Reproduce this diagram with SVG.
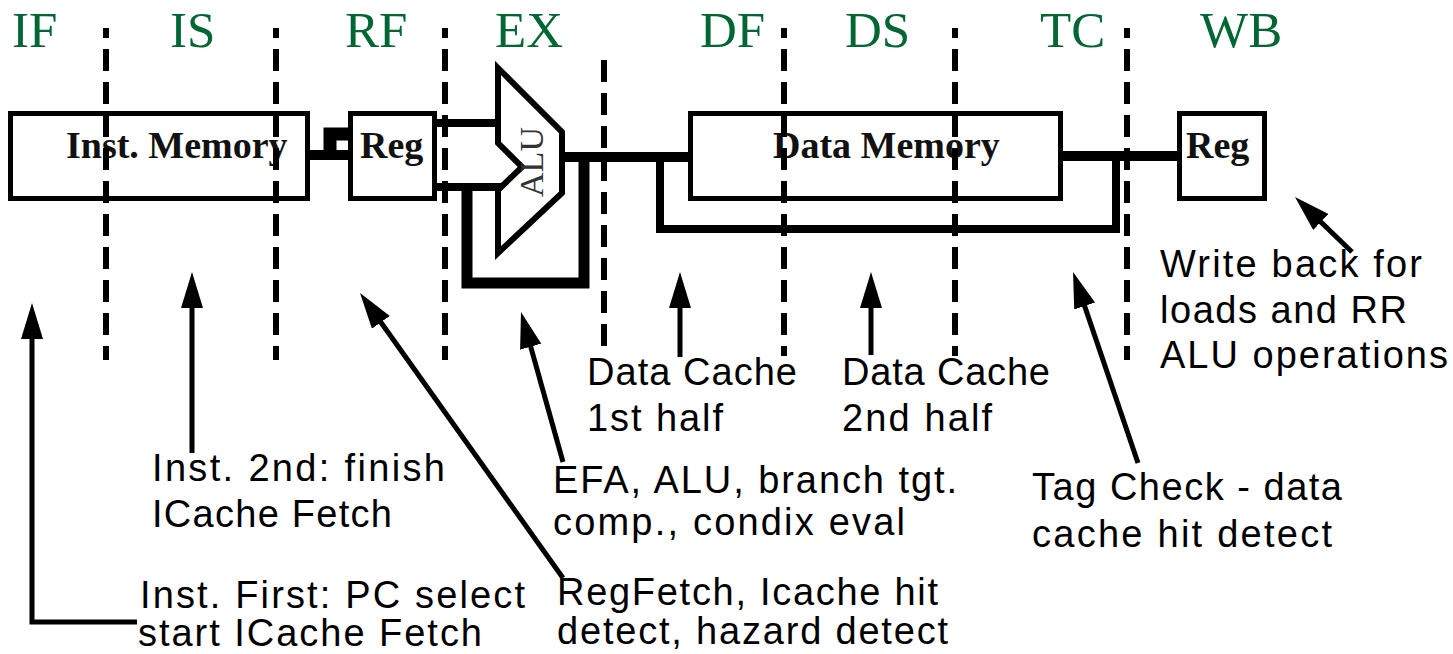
<svg xmlns="http://www.w3.org/2000/svg" width="1453" height="654" viewBox="0 0 1453 654">
<style>
.stage{font-family:"Liberation Serif","Times New Roman",serif;font-size:51px;fill:#006633}
.box{fill:#fff;stroke:#000;stroke-width:5}
.lbl{font-family:"Liberation Serif","Times New Roman",serif;font-size:38px;font-weight:bold;fill:#111}
.note{font-family:"Liberation Sans",Arial,sans-serif;font-size:38px;fill:#000}
.bus{fill:none;stroke:#000;stroke-linejoin:miter;stroke-linecap:butt}
.div{stroke:#000;stroke-width:6;stroke-dasharray:22 11}
.arr{fill:none;stroke:#000;stroke-width:5;marker-end:url(#ah)}
</style>
<defs>
<marker id="ah" viewBox="0 0 36 22" refX="20" refY="11" markerWidth="36" markerHeight="22" markerUnits="userSpaceOnUse" orient="auto">
<path d="M0,0 L36,11 L0,22 Z" fill="#000"/>
</marker>
</defs>
<rect width="1453" height="654" fill="#fff"/>
<g id="stages">
<text class="stage" x="12" y="47">IF</text>
<text class="stage" x="170" y="47">IS</text>
<text class="stage" x="345" y="47">RF</text>
<text class="stage" x="495" y="47">EX</text>
<text class="stage" x="700" y="47">DF</text>
<text class="stage" x="845" y="47">DS</text>
<text class="stage" x="1040" y="47">TC</text>
<text class="stage" x="1200" y="47">WB</text>
</g>
<g id="connectors">
<path class="bus" d="M303,155 H348" stroke-width="10"/>
<path class="bus" d="M330,160 V134 H348" stroke-width="13"/>
<path class="bus" d="M432,123 H501" stroke-width="8"/>
<path class="bus" d="M432,187 H501" stroke-width="8"/>
<path class="bus" d="M562,157 H690" stroke-width="10"/>
<path class="bus" d="M584,157 V283 H467 V187" stroke-width="11"/>
<path class="bus" d="M660,157 V229 H1116 V157" stroke-width="8"/>
<path class="bus" d="M1062,156 H1180" stroke-width="10"/>
</g>
<g id="inst-memory">
<rect class="box" x="10.5" y="113.5" width="297" height="85"/>
<text class="lbl" x="66" y="158">Inst. Memory</text>
</g>
<g id="reg-rf">
<rect class="box" x="350.5" y="113.5" width="84" height="85"/>
<text class="lbl" x="360" y="158">Reg</text>
</g>
<g id="alu">
<path d="M498,68 L562,132 L562,193 L498,253 L498,190 L522,167 L498,143 Z" fill="#fff" stroke="#000" stroke-width="6" stroke-linejoin="miter"/>
<text transform="translate(543,162) rotate(-90)" text-anchor="middle" font-family="Liberation Serif, Times New Roman, serif" font-size="34" fill="#333">ALU</text>
</g>
<g id="data-memory">
<rect class="box" x="690.5" y="113.5" width="370" height="85"/>
<text class="lbl" x="773" y="158">Data Memory</text>
</g>
<g id="reg-wb">
<rect class="box" x="1179.5" y="113.5" width="85" height="85"/>
<text class="lbl" x="1186" y="158">Reg</text>
</g>
<g id="dividers">
<line class="div" x1="106" y1="28" x2="106" y2="360" stroke-dashoffset="12"/>
<line class="div" x1="276" y1="28" x2="276" y2="360" stroke-dashoffset="12"/>
<line class="div" x1="445" y1="28" x2="445" y2="360" stroke-dashoffset="12"/>
<line class="div" x1="604" y1="60" x2="604" y2="346"/>
<line class="div" x1="784" y1="28" x2="784" y2="356" stroke-dashoffset="12"/>
<line class="div" x1="955" y1="28" x2="955" y2="356" stroke-dashoffset="12"/>
<line class="div" x1="1127" y1="28" x2="1127" y2="360" stroke-dashoffset="12"/>
</g>
<g id="arrows">
<path class="arr" d="M137,622 H32 V319" stroke-width="4"/>
<path class="arr" d="M192,453 V288"/>
<path class="arr" d="M563,578 L369.3,306"/>
<path class="arr" d="M563,462 L525.3,327.4"/>
<path class="arr" d="M680,357 V288"/>
<path class="arr" d="M871,355 V288" stroke-width="2"/>
<path class="arr" d="M1138,463 L1078.2,287.1"/>
<path class="arr" d="M1352,252 L1306.5,208.1"/>
</g>
<g id="annotations">
<text class="note" x="152" y="481" textLength="293" lengthAdjust="spacing">Inst. 2nd: finish</text>
<text class="note" x="152" y="527" textLength="240" lengthAdjust="spacing">ICache Fetch</text>
<text class="note" x="140" y="608" textLength="385" lengthAdjust="spacing">Inst. First: PC select</text>
<text class="note" x="138" y="646" textLength="344" lengthAdjust="spacing">start ICache Fetch</text>
<text class="note" x="557" y="605" textLength="381" lengthAdjust="spacing">RegFetch, Icache hit</text>
<text class="note" x="557" y="644" textLength="391" lengthAdjust="spacing">detect, hazard detect</text>
<text class="note" x="553" y="493" textLength="404" lengthAdjust="spacing">EFA, ALU, branch tgt.</text>
<text class="note" x="553" y="535" textLength="352" lengthAdjust="spacing">comp., condix eval</text>
<text class="note" x="587" y="385" textLength="210" lengthAdjust="spacing">Data Cache</text>
<text class="note" x="587" y="431" textLength="136" lengthAdjust="spacing">1st half</text>
<text class="note" x="842" y="385" textLength="208" lengthAdjust="spacing">Data Cache</text>
<text class="note" x="842" y="431" textLength="150" lengthAdjust="spacing">2nd half</text>
<text class="note" x="1032" y="500" textLength="310" lengthAdjust="spacing">Tag Check - data</text>
<text class="note" x="1032" y="547" textLength="300" lengthAdjust="spacing">cache hit detect</text>
<text class="note" x="1160" y="277" textLength="262" lengthAdjust="spacing">Write back for</text>
<text class="note" x="1160" y="323" textLength="247" lengthAdjust="spacing">loads and RR</text>
<text class="note" x="1160" y="368" textLength="288" lengthAdjust="spacing">ALU operations</text>
</g>
</svg>
